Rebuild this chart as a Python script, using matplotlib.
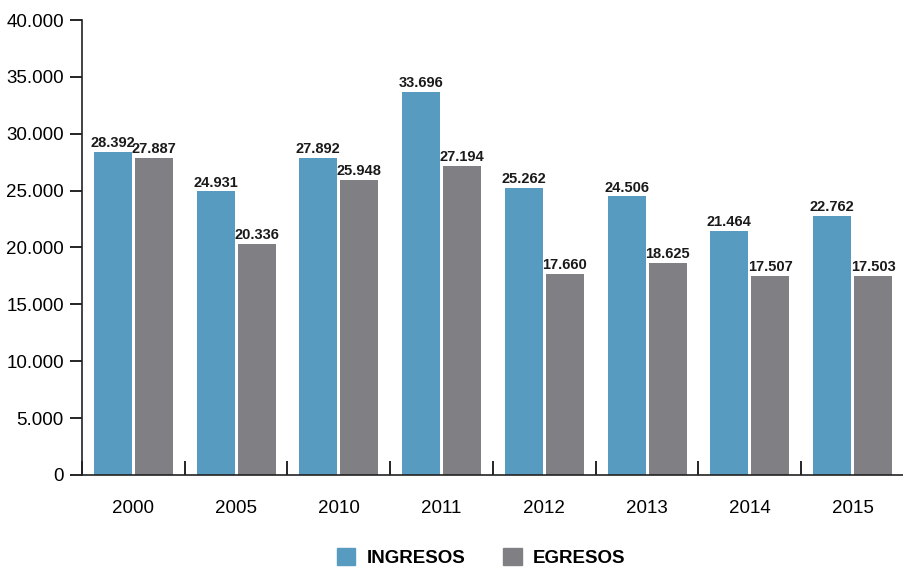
import numpy as np
import matplotlib
matplotlib.use("Agg")
import matplotlib.pyplot as plt
from matplotlib.patches import Patch
from matplotlib.ticker import FuncFormatter, FixedLocator

plt.rcParams['font.family'] = ['Liberation Sans Narrow', 'Liberation Sans', 'DejaVu Sans']

years = ["2000", "2005", "2010", "2011", "2012", "2013", "2014", "2015"]
ingresos = [28392, 24931, 27892, 33696, 25262, 24506, 21464, 22762]
egresos = [27887, 20336, 25948, 27194, 17660, 18625, 17507, 17503]

BLUE = "#579BC0"
GRAY = "#808084"


def thousands(v, pos=None):
    return f"{int(v):,}".replace(",", ".")


fig = plt.figure(figsize=(9.04, 5.67), dpi=100)
ax = fig.add_axes([0.0907, 0.1623, 0.9093, 0.8024])

x = np.arange(len(years))
w = 0.37
ax.bar(x - w / 2 - 0.015, ingresos, w, color=BLUE)
ax.bar(x + w / 2 + 0.015, egresos, w, color=GRAY)

for xi, v in zip(x, ingresos):
    ax.text(xi - w / 2 - 0.015, v + 150, thousands(v), ha="center", va="bottom",
            fontsize=10.5, fontweight="bold", color="#1a1a1a")
for xi, v in zip(x, egresos):
    ax.text(xi + w / 2 + 0.015, v + 150, thousands(v), ha="center", va="bottom",
            fontsize=10.5, fontweight="bold", color="#1a1a1a")

ax.set_xlim(-0.5, len(years) - 0.5)
ax.set_ylim(0, 40000)
ax.set_yticks(np.arange(0, 40001, 5000))
ax.yaxis.set_major_formatter(FuncFormatter(thousands))
ax.set_xticks(x)
ax.set_xticklabels(years)
ax.xaxis.set_minor_locator(FixedLocator(np.arange(-0.5, len(years), 1.0)))

ax.tick_params(axis="y", direction="out", length=9, width=1.2, labelsize=13.5, pad=4)
ax.tick_params(axis="x", which="major", length=0, labelsize=13.5, pad=18)
ax.tick_params(axis="x", which="minor", direction="in", length=10, width=1.2)

for s in ["top", "right"]:
    ax.spines[s].set_visible(False)
for s in ["left", "bottom"]:
    ax.spines[s].set_linewidth(1.2)
    ax.spines[s].set_color("#222222")

handles = [Patch(color=BLUE, label="INGRESOS"), Patch(color=GRAY, label="EGRESOS")]
leg = fig.legend(handles=handles, loc="lower center", bbox_to_anchor=(0.532, -0.03), ncol=2,
                 frameon=False, handlelength=1.0, handleheight=1.0, handletextpad=0.6,
                 columnspacing=2.0, prop={"size": 13.5, "weight": "bold"})

fig.savefig("out.png", dpi=100)
